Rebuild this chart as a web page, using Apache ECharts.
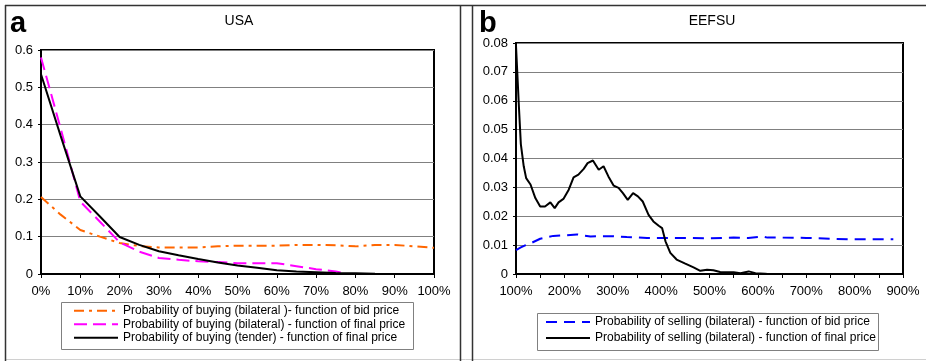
<!DOCTYPE html>
<html>
<head>
<meta charset="utf-8">
<script src="https://cdn.jsdelivr.net/npm/echarts@6/dist/echarts.min.js"></script>
<style>
  html, body { margin: 0; padding: 0; background: #fff; }
  #chart { width: 927px; height: 361px; }
</style>
</head>
<body>
<div id="chart"></div>
<script>
// panel a - USA
var usaX = [0, 5, 10, 15, 20, 25, 30, 35, 40, 45, 50, 55, 60, 65, 70, 75, 80, 85, 90, 95, 100];
var usaBid = [0.206, 0.159, 0.118, 0.100, 0.083, 0.075, 0.071, 0.071, 0.071, 0.074, 0.076, 0.076, 0.076, 0.078, 0.078, 0.077, 0.074, 0.078, 0.078, 0.074, 0.070];
var usaFinalX = [0, 5, 10, 15, 20, 25, 30, 35, 40, 45, 50, 55, 60, 65, 70, 75, 77];
var usaFinal = [0.58, 0.39, 0.194, 0.14, 0.085, 0.06, 0.043, 0.038, 0.034, 0.032, 0.029, 0.029, 0.029, 0.021, 0.013, 0.007, 0.002];
var usaTenderX = [0, 5, 10, 15, 20, 25, 30, 35, 40, 45, 50, 55, 60, 65, 70, 75, 80, 85];
var usaTender = [0.535, 0.37, 0.208, 0.154, 0.099, 0.078, 0.061, 0.05, 0.04, 0.031, 0.023, 0.017, 0.01, 0.007, 0.005, 0.003, 0.002, 0.0005];

// panel b - EEFSU
var eeBidX = [100, 110, 120, 130, 150, 177, 205, 226, 254, 274, 302, 329, 371, 400, 450, 500, 550, 580, 600, 610, 620, 650, 700, 750, 800, 850, 880];
var eeBid = [0.0083, 0.0092, 0.0100, 0.0106, 0.0122, 0.0132, 0.0134, 0.0137, 0.0130, 0.0131, 0.0131, 0.0128, 0.0125, 0.0125, 0.0125, 0.0124, 0.0126, 0.0125, 0.0128, 0.0130, 0.0126, 0.0126, 0.0125, 0.0122, 0.0120, 0.0120, 0.0120];
var eeFinalX = [100, 102, 104, 106, 110, 116, 121, 130, 140, 150, 160, 171, 180, 188, 198, 209, 219, 229, 240, 248, 259, 271, 281, 291, 302, 312, 321, 331, 342, 352, 362, 374, 384, 395, 402, 409, 419, 432, 450, 467, 481, 495, 508, 522, 550, 564, 581, 595, 615, 620];
var eeFinal = [0.079, 0.072, 0.065, 0.058, 0.045, 0.0373, 0.0332, 0.031, 0.0263, 0.0234, 0.0234, 0.0248, 0.0228, 0.0248, 0.026, 0.0292, 0.0335, 0.0344, 0.0364, 0.0384, 0.0393, 0.0361, 0.0373, 0.0338, 0.0306, 0.0298, 0.028, 0.0257, 0.028, 0.0269, 0.0251, 0.0205, 0.0182, 0.0167, 0.0159, 0.0113, 0.0073, 0.005, 0.0036, 0.0023, 0.0011, 0.0015, 0.0013, 0.0007, 0.0006, 0.0003, 0.0009, 0.0003, 0.0001, 0];

var names = [
  'Probability of buying (bilateral )- function of bid price',
  'Probability of buying (bilateral) - function of final price',
  'Probability of buying (tender) - function of final price',
  'Probability of selling (bilateral) - function of bid price',
  'Probability of selling (bilateral) - function of final price'
];

function pairs(xs, ys) {
  return xs.map(function (x, i) { return [x, ys[i]]; });
}

var FONT = 'Liberation Sans, Arial, sans-serif';
var labelStyle = { color: '#000', fontSize: 13, fontFamily: FONT };

function xAxisOf(idx, min, max, interval, fmt) {
  return {
    type: 'value', gridIndex: idx, min: min, max: max, interval: interval,
    axisLine: { show: true, lineStyle: { color: '#000', width: 2 } },
    axisTick: { show: true, length: 4, lineStyle: { color: '#000' } },
    axisLabel: Object.assign({ margin: 11, formatter: fmt }, labelStyle),
    splitLine: { show: false }
  };
}
function yAxisOf(idx, max, interval, fmt) {
  return {
    type: 'value', gridIndex: idx, min: 0, max: max, interval: interval,
    axisLine: { show: true, lineStyle: { color: '#000', width: 2 } },
    axisTick: { show: true, length: 3, lineStyle: { color: '#000' } },
    axisLabel: Object.assign({ margin: 8, formatter: fmt }, labelStyle),
    splitLine: { show: true, lineStyle: { color: '#808080', width: 1 } }
  };
}
function lineSeries(name, idx, data, color, dash) {
  return {
    name: name, type: 'line', xAxisIndex: idx, yAxisIndex: idx,
    data: data, symbol: 'none', silent: true, animation: false,
    lineStyle: { color: color, width: 2, type: dash },
    itemStyle: { color: color }
  };
}
function legendOf(items, left, top, lh) {
  return {
    data: items, orient: 'vertical', left: left, top: top, padding: 0,
    itemWidth: 44, itemHeight: 8, itemGap: 0, selectedMode: false,
    itemStyle: { color: 'transparent', borderWidth: 0, opacity: 0 },
    textStyle: { color: '#000', fontSize: 12, fontFamily: FONT, lineHeight: lh }
  };
}

var chart = echarts.init(document.getElementById('chart'));
chart.setOption({
  animation: false,
  backgroundColor: '#fff',
  grid: [
    { left: 41, right: 493, top: 50, bottom: 87, show: true, borderColor: '#000', borderWidth: 2, backgroundColor: '#fff' },
    { left: 516, right: 24, top: 43, bottom: 87, show: true, borderColor: '#000', borderWidth: 2, backgroundColor: '#fff' }
  ],
  xAxis: [
    xAxisOf(0, 0, 100, 10, '{value}%'),
    xAxisOf(1, 100, 900, 50, function (v) { return v % 100 === 0 ? v + '%' : ''; })
  ],
  yAxis: [
    yAxisOf(0, 0.6, 0.1, function (v) { return v === 0 ? '0' : v.toFixed(1); }),
    yAxisOf(1, 0.08, 0.01, function (v) { return v === 0 ? '0' : v.toFixed(2); })
  ],
  legend: [
    legendOf(names.slice(0, 3), 73, 304, 13.5),
    legendOf(names.slice(3), 545, 314, 16)
  ],
  graphic: [
    { type: 'line', shape: { x1: 5, y1: 5.5, x2: 926, y2: 5.5 }, style: { stroke: '#333', lineWidth: 1.5 }, z: 0 },
    { type: 'line', shape: { x1: 5, y1: 359.5, x2: 926, y2: 359.5 }, style: { stroke: '#d0d0d0', lineWidth: 1 }, z: 0 },
    { type: 'line', shape: { x1: 5.5, y1: 5, x2: 5.5, y2: 361 }, style: { stroke: '#333', lineWidth: 1.5 }, z: 0 },
    { type: 'line', shape: { x1: 460.5, y1: 5, x2: 460.5, y2: 361 }, style: { stroke: '#333', lineWidth: 1.5 }, z: 0 },
    { type: 'line', shape: { x1: 472.5, y1: 5, x2: 472.5, y2: 361 }, style: { stroke: '#333', lineWidth: 1.5 }, z: 0 },
    { type: 'rect', shape: { x: 61.5, y: 302.5, width: 352, height: 47 }, style: { fill: '#fff', stroke: '#808080', lineWidth: 1 }, z: 0 },
    { type: 'rect', shape: { x: 537.5, y: 313.5, width: 341, height: 37 }, style: { fill: '#fff', stroke: '#808080', lineWidth: 1 }, z: 0 },
    { type: 'text', left: 10, top: 9, style: { text: 'a', fill: '#000', font: 'bold 29px ' + FONT }, z: 5 },
    { type: 'text', left: 479, top: 9, style: { text: 'b', fill: '#000', font: 'bold 29px ' + FONT }, z: 5 },
    { type: 'text', x: 239, y: 21, style: { text: 'USA', fill: '#000', font: '14px ' + FONT, align: 'center', verticalAlign: 'middle' }, z: 5 },
    { type: 'text', x: 712, y: 21, style: { text: 'EEFSU', fill: '#000', font: '14px ' + FONT, align: 'center', verticalAlign: 'middle' }, z: 5 }
  ],
  series: [
    lineSeries(names[0], 0, pairs(usaX, usaBid), '#FF6600', [10, 5, 3, 5]),
    lineSeries(names[1], 0, pairs(usaFinalX, usaFinal), '#FF00FF', [13, 6]),
    lineSeries(names[2], 0, pairs(usaTenderX, usaTender), '#000000', 'solid'),
    lineSeries(names[3], 1, pairs(eeBidX, eeBid), '#0000FF', [11, 7]),
    lineSeries(names[4], 1, pairs(eeFinalX, eeFinal), '#000000', 'solid')
  ]
});
</script>
</body>
</html>
